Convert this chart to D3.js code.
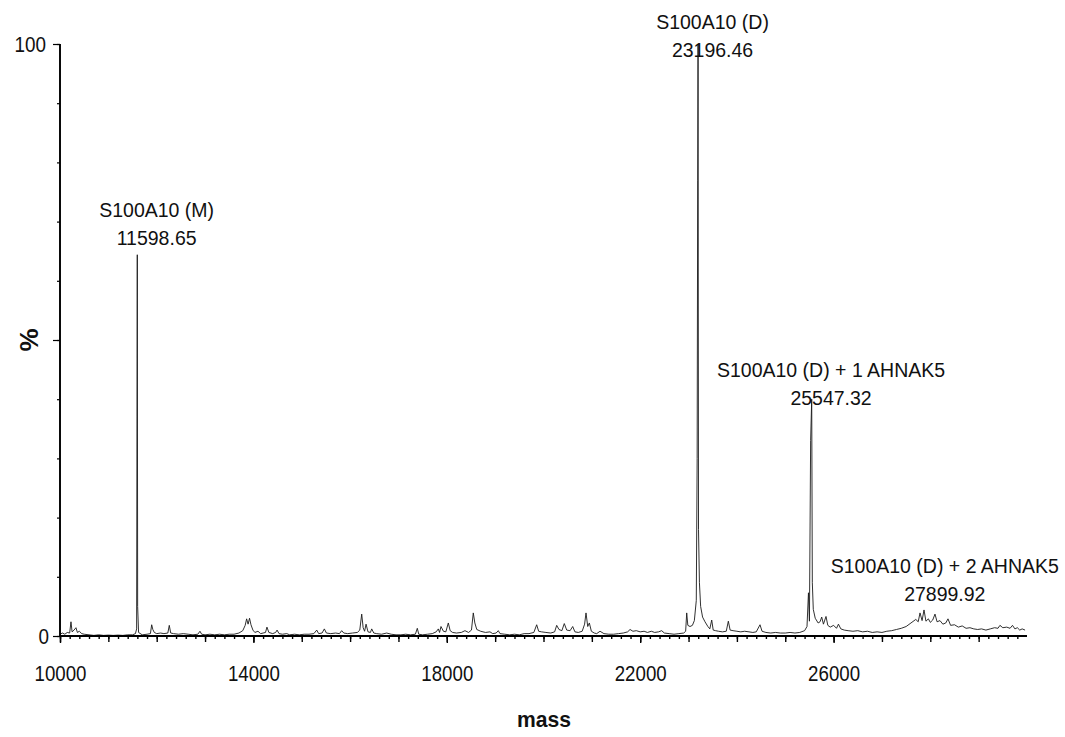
<!DOCTYPE html>
<html>
<head>
<meta charset="utf-8">
<script src="https://cdn.jsdelivr.net/npm/d3@7"></script>
<style>
  html, body { margin: 0; padding: 0; background: #fff; }
  svg { display: block; }
  .tick-label { font-family: "Liberation Sans", Arial, sans-serif; font-size: 22px; fill: #111; }
  .peak-label { font-family: "Liberation Sans", Arial, sans-serif; font-size: 19.5px; fill: #111; }
  .axis-title { font-family: "Liberation Sans", Arial, sans-serif; font-size: 22px; font-weight: bold; fill: #111; }
</style>
</head>
<body>
<svg id="chart" width="1065" height="737"></svg>
<script>
// spectrum: [mass, relative intensity %]
const spectrum = [
  [10000,0.3],[10050,0.5],[10100,0.3],[10150,0.6],[10200,0.5],[10227,2.4],[10250,0.7],[10290,1.0],
  [10330,1.4],[10360,0.6],[10400,0.8],[10450,0.4],[10500,0.3],[10600,0.2],[10700,0.1],[10800,0.2],
  [10900,0.1],[11000,0.15],[11100,0.1],[11200,0.15],[11300,0.1],[11400,0.2],[11500,0.2],[11560,0.4],
  [11585,1.2],[11592,37],[11598.65,64.4],[11606,5],[11625,0.6],[11700,0.2],[11800,0.3],[11870,0.4],
  [11896,1.9],[11920,1.1],[11950,0.6],[12000,0.4],[12080,0.5],[12150,0.4],[12230,0.5],[12260,1.8],
  [12290,0.5],[12350,0.4],[12450,0.3],[12550,0.4],[12650,0.3],[12750,0.2],[12850,0.3],[12895,0.8],
  [12930,0.3],[13000,0.2],[13100,0.3],[13200,0.2],[13300,0.3],[13400,0.2],[13500,0.3],[13600,0.3],
  [13700,0.5],[13780,0.9],[13830,1.8],[13860,2.9],[13890,2.0],[13920,3.0],[13950,1.9],[13990,1.0],
  [14030,0.6],[14095,0.8],[14150,0.4],[14200,0.5],[14250,0.6],[14280,1.5],[14320,0.6],[14400,0.4],
  [14460,0.6],[14490,1.0],[14530,0.4],[14600,0.3],[14690,0.4],[14750,0.2],[14850,0.3],[14950,0.2],
  [15050,0.3],[15150,0.3],[15250,0.4],[15310,1.0],[15350,0.4],[15420,0.5],[15467,1.2],[15510,0.5],
  [15600,0.4],[15700,0.5],[15780,0.4],[15826,0.9],[15870,0.5],[15950,0.4],[16050,0.5],[16150,0.6],
  [16200,1.0],[16240,3.7],[16270,1.4],[16300,0.8],[16330,2.0],[16370,0.7],[16420,0.6],[16447,1.2],
  [16490,0.5],[16550,0.4],[16650,0.3],[16757,0.5],[16850,0.3],[16950,0.2],[17050,0.2],[17150,0.3],
  [17250,0.2],[17350,0.3],[17390,1.3],[17420,0.3],[17500,0.2],[17600,0.3],[17700,0.4],[17780,0.7],
  [17825,1.2],[17850,0.6],[17880,1.6],[17930,0.8],[17980,0.7],[18031,2.2],[18070,0.9],[18120,0.6],
  [18200,0.5],[18300,0.6],[18376,0.9],[18450,0.6],[18510,1.0],[18548,3.9],[18580,2.2],[18620,1.1],
  [18700,0.8],[18800,0.6],[18893,0.7],[18950,0.4],[19020,0.5],[19065,0.9],[19100,0.4],[19200,0.3],
  [19300,0.2],[19400,0.3],[19500,0.2],[19600,0.4],[19700,0.4],[19800,0.6],[19859,1.9],[19900,0.8],
  [19960,0.7],[20050,0.6],[20150,0.5],[20230,0.7],[20273,1.8],[20320,1.1],[20380,0.9],[20430,2.1],
  [20480,1.0],[20550,0.9],[20604,1.6],[20650,0.7],[20720,0.6],[20800,0.8],[20850,2.0],[20879,3.9],
  [20915,1.6],[20948,2.2],[20990,0.8],[21050,0.5],[21100,0.4],[21169,0.8],[21250,0.4],[21350,0.3],
  [21450,0.3],[21550,0.4],[21650,0.5],[21740,0.7],[21790,1.1],[21850,0.8],[21920,0.9],[22000,0.7],
  [22080,0.8],[22150,0.6],[22230,0.8],[22300,0.6],[22380,0.7],[22444,0.9],[22500,0.5],[22600,0.4],
  [22700,0.3],[22800,0.4],[22900,0.5],[22940,0.8],[22962,3.9],[22985,1.8],[23030,1.6],[23080,1.8],
  [23120,2.6],[23160,6],[23178,30],[23189,77],[23196.46,100],[23206,18],[23225,9],[23250,5],
  [23290,3.2],[23340,2.4],[23400,1.6],[23440,1.2],[23479,2.7],[23510,1.0],[23560,0.9],[23620,0.8],
  [23700,0.7],[23780,0.8],[23823,2.5],[23860,1.0],[23920,0.9],[24000,0.8],[24080,0.7],[24160,0.8],
  [24250,0.7],[24330,0.6],[24400,0.7],[24478,1.9],[24520,0.8],[24600,0.6],[24700,0.5],[24800,0.6],
  [24900,0.5],[25000,0.5],[25100,0.6],[25200,0.5],[25300,0.6],[25400,0.9],[25450,1.6],[25480,7.3],
  [25500,2.5],[25525,33],[25547.32,40],[25560,9],[25580,4.5],[25620,3],[25680,2.2],[25720,2.4],
  [25754,3.2],[25790,2.0],[25843,3.3],[25880,1.8],[25930,1.5],[26000,1.8],[26060,1.3],[26100,2.0],
  [26150,1.2],[26220,1.0],[26300,0.9],[26400,0.8],[26500,0.9],[26600,0.7],[26700,0.8],[26800,0.6],
  [26900,0.7],[27000,0.6],[27100,0.8],[27200,0.9],[27300,1.1],[27400,1.3],[27500,1.6],[27600,2.2],
  [27700,2.8],[27750,2.4],[27787,3.9],[27830,2.6],[27870,4.4],[27910,2.5],[27960,2.9],[28000,2.3],
  [28050,2.7],[28097,3.7],[28140,2.4],[28200,2.6],[28260,2.0],[28320,2.2],[28366,2.9],[28420,1.8],
  [28500,1.9],[28580,1.5],[28660,1.7],[28740,1.3],[28820,1.4],[28900,1.2],[28980,1.1],[29060,1.2],
  [29150,1.0],[29240,1.2],[29330,1.4],[29400,1.3],[29440,1.8],[29500,1.4],[29580,1.5],[29650,1.3],
  [29700,1.8],[29750,1.2],[29800,1.4],[29850,1.0],[29900,1.2],[29960,1.0]
];

// peak annotations
const peakNames = ["S100A10 (M)", "S100A10 (D)", "S100A10 (D) + 1 AHNAK5", "S100A10 (D) + 2 AHNAK5"];
const peakMasses = [11598.65, 23196.46, 25547.32, 27899.92];
const peakMassLabels = ["11598.65", "23196.46", "25547.32", "27899.92"];
const peakLabelHeights = [66, 97.8, 39, 5.9];   // % level of the mass-value baseline
const peakLabelShift = [400, 300, 400, 400];    // label centre offset, mass units

const xMajorTicks = [10000, 14000, 18000, 22000, 26000];
const xTickLabels = ["10000", "14000", "18000", "22000", "26000"];
const yMajorTicks = [0, 50, 100];
const yTickLabels = { 0: "0", 100: "100" };

const svg = d3.select("#chart");
const x = d3.scaleLinear().domain([10000, 30000]).range([60, 1027]);
const y = d3.scaleLinear().domain([0, 100]).range([636, 44]);

// spectrum trace
const line = d3.line().x(d => x(d[0])).y(d => y(d[1]));
svg.append("path")
  .datum(spectrum)
  .attr("fill", "none")
  .attr("stroke", "#1a1a1a")
  .attr("stroke-width", 0.9)
  .attr("stroke-linejoin", "round")
  .attr("d", line);

// x axis: minor / medium / major ticks
const xAxisG = svg.append("g").attr("transform", `translate(0,${y(0)})`);
xAxisG.append("g")
  .call(d3.axisBottom(x).tickValues(d3.range(10000, 30000, 200)).tickSize(3).tickFormat(""));
xAxisG.append("g")
  .call(d3.axisBottom(x).tickValues(d3.range(10000, 30000, 1000)).tickSize(6).tickFormat(""));
xAxisG.append("g")
  .call(d3.axisBottom(x).tickValues(xMajorTicks).tickSize(7).tickFormat((d, i) => xTickLabels[i]))
  .call(g => g.selectAll("text").attr("class", "tick-label").attr("y", 45).attr("dy", 0)
    .attr("font-family", null).attr("font-size", null)
    .attr("textLength", function() { return this.textContent.length * 10.4; })
    .attr("lengthAdjust", "spacingAndGlyphs"));
xAxisG.selectAll(".domain").attr("stroke", "#000").attr("stroke-width", 2.2).attr("d", `M${x(10000)},0H${x(30000)}`);
xAxisG.selectAll(".tick line").attr("stroke", "#000").attr("stroke-width", 1.4);

// y axis
const yAxisG = svg.append("g").attr("transform", `translate(${x(10000)},0)`);
yAxisG.append("g")
  .call(d3.axisLeft(y).tickValues(d3.range(0, 101, 10)).tickSize(3).tickFormat(""));
yAxisG.append("g")
  .call(d3.axisLeft(y).tickValues(yMajorTicks).tickSize(7).tickFormat(d => yTickLabels[d] || ""))
  .call(g => g.selectAll("text").attr("class", "tick-label")
    .attr("x", d => d === 100 ? -14 : -11)
    .attr("font-family", null).attr("font-size", null)
    .attr("textLength", function() { return this.textContent.length * 10.5; })
    .attr("lengthAdjust", "spacingAndGlyphs"));
yAxisG.selectAll(".domain").attr("stroke", "#000").attr("stroke-width", 1.6).attr("d", `M0,${y(0)}V${y(100)}`);
yAxisG.selectAll(".tick line").attr("stroke", "#000").attr("stroke-width", 1.2);

// peak labels
const labels = svg.append("g");
peakMasses.forEach((m, i) => {
  const cx = x(m + peakLabelShift[i]);
  const base = y(peakLabelHeights[i]);
  labels.append("text").attr("class", "peak-label").attr("text-anchor", "middle")
    .attr("x", cx).attr("y", base - 28).text(peakNames[i]);
  labels.append("text").attr("class", "peak-label").attr("text-anchor", "middle")
    .attr("x", cx).attr("y", base).text(peakMassLabels[i]);
});

// axis titles
svg.append("text").attr("class", "axis-title").attr("text-anchor", "middle")
  .attr("x", 544).attr("y", 727).attr("textLength", 54).attr("lengthAdjust", "spacingAndGlyphs").text("mass");
svg.append("text").attr("class", "axis-title").attr("text-anchor", "middle")
  .style("font-size", "26px")
  .attr("transform", "translate(38,340) rotate(-90)").text("%");
</script>
</body>
</html>
